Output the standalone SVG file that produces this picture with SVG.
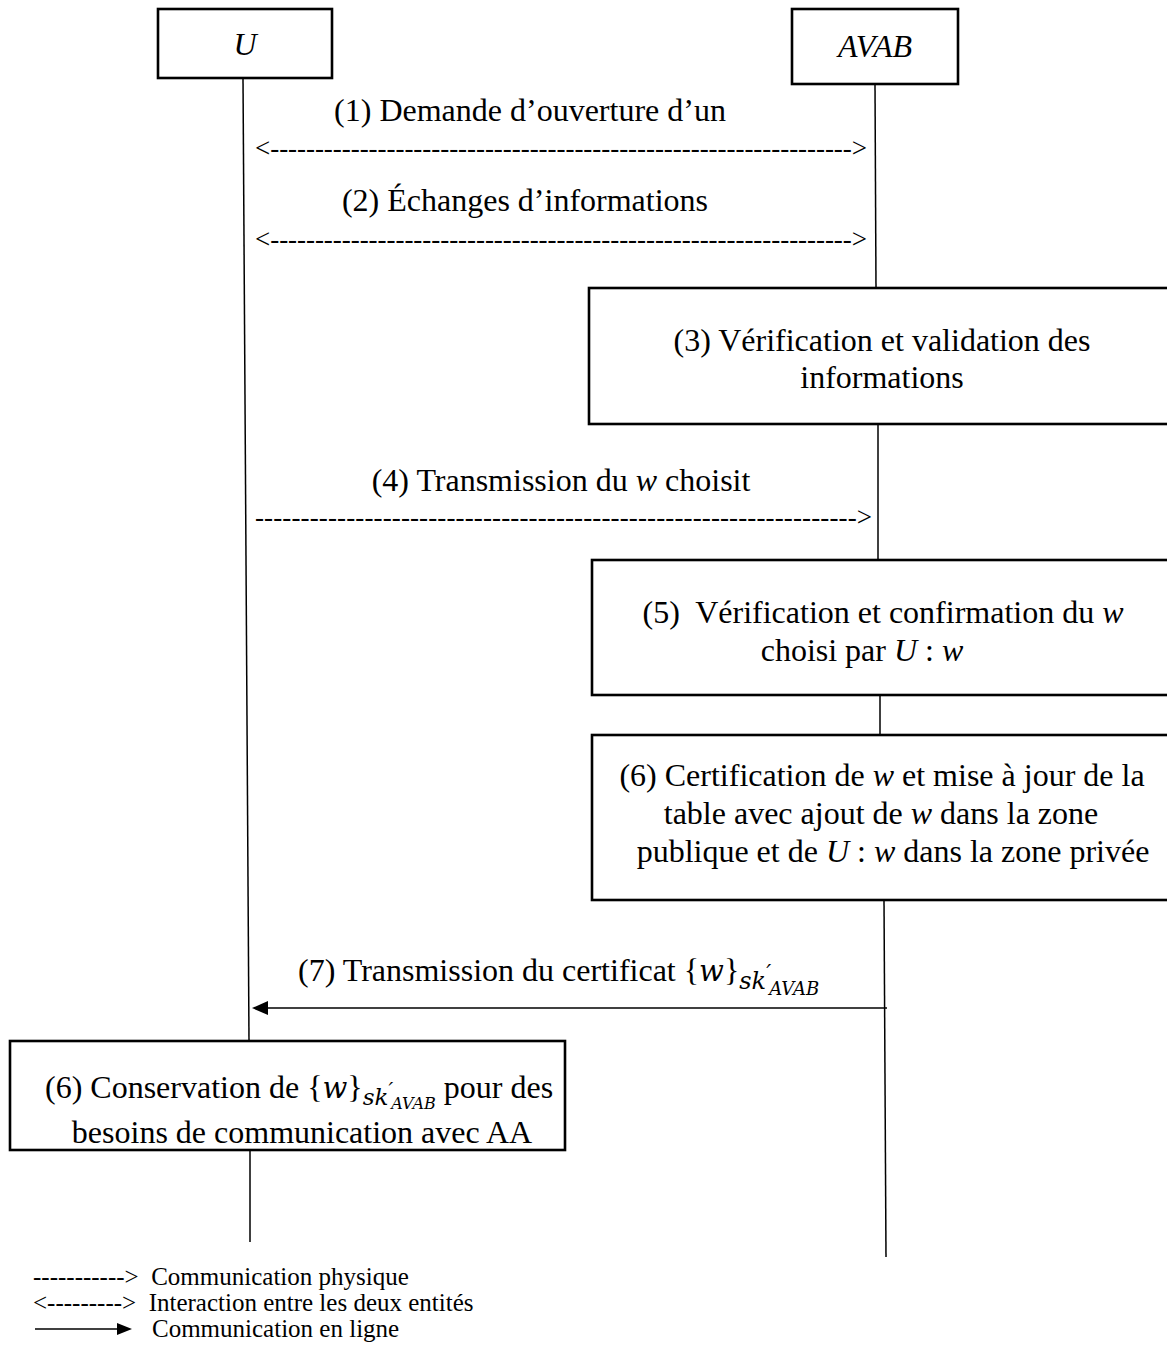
<svg xmlns="http://www.w3.org/2000/svg" width="1167" height="1350" viewBox="0 0 1167 1350">
  <defs>
    <style>
      .box { fill: #fff; stroke: #000; stroke-width: 2.6; }
      .life { stroke: #000; stroke-width: 1.5; fill: none; }
      .t { font-family: "Liberation Serif", "Times New Roman", Times, serif; font-size: 32px; fill: #000; }
      .c { text-anchor: middle; }
      .i { font-style: italic; }
      .dash { font-family: "Liberation Serif", "Times New Roman", Times, serif; font-size: 27px; fill: #000; }
      .leg { font-family: "Liberation Serif", "Times New Roman", Times, serif; font-size: 25px; fill: #000; }
      .m { font-family: "DejaVu Serif", serif; font-style: italic; }
    </style>
  </defs>

  <rect width="1167" height="1350" fill="#fff"/>

  <!-- lifelines and messages -->
  <g id="connectors">
    <line class="life" x1="243" y1="78" x2="249" y2="1041"/>
    <line class="life" x1="250" y1="1150" x2="250" y2="1242"/>
    <line class="life" x1="875" y1="84" x2="876" y2="288"/>
    <line class="life" x1="878" y1="424" x2="878" y2="560"/>
    <line class="life" x1="880" y1="695" x2="880" y2="735"/>
    <line class="life" x1="884" y1="900" x2="886" y2="1257"/>

    <text class="dash" x="255" y="157" textLength="612" lengthAdjust="spacing">&lt;-----------------------------------------------------------------&gt;</text>
    <text class="dash" x="255" y="248" textLength="612" lengthAdjust="spacing">&lt;-----------------------------------------------------------------&gt;</text>
    <text class="dash" x="255" y="526" textLength="617" lengthAdjust="spacing">------------------------------------------------------------------&gt;</text>

    <line x1="887" y1="1008" x2="268" y2="1008" stroke="#000" stroke-width="1.5"/>
    <path d="M252,1008 L268,1001 L268,1015 Z" fill="#000"/>
  </g>

  <g id="msg1"><text class="t c" x="530" y="121">(1) Demande d’ouverture d’un</text></g>
  <g id="msg2"><text class="t c" x="525" y="211">(2) Échanges d’informations</text></g>
  <g id="msg4"><text class="t c" x="561" y="491">(4) Transmission du <tspan class="i">w</tspan> choisit</text></g>
  <g id="msg7">
    <text class="t" x="298" y="981">(7) Transmission du certificat {<tspan class="m" font-size="29">w</tspan>}<tspan class="m" font-size="24" dy="8">sk</tspan><tspan class="m" font-size="22" dy="-9">′</tspan><tspan class="m" font-size="18" dy="15" dx="-2">AVAB</tspan></text>
  </g>

  <g id="node-u">
    <rect class="box" x="158" y="9" width="174" height="69"/>
    <text class="t c i" x="245" y="55" font-size="26">U</text>
  </g>

  <g id="node-avab">
    <rect class="box" x="792" y="9" width="166" height="75"/>
    <text class="t c i" x="875" y="57" font-size="26">AVAB</text>
  </g>

  <g id="step3">
    <rect class="box" x="589" y="288" width="580" height="136"/>
    <text class="t c" x="882" y="351">(3) Vérification et validation des</text>
    <text class="t c" x="882" y="388">informations</text>
  </g>

  <g id="step5">
    <rect class="box" x="592" y="560" width="577" height="135"/>
    <text class="t c" x="883" y="623" xml:space="preserve">(5)  Vérification et confirmation du <tspan class="i">w</tspan></text>
    <text class="t c" x="862" y="661">choisi par <tspan class="i">U</tspan> : <tspan class="i">w</tspan></text>
  </g>

  <g id="step6">
    <rect class="box" x="592" y="735" width="577" height="165"/>
    <text class="t c" x="882" y="786">(6) Certification de <tspan class="i">w</tspan> et mise à jour de la</text>
    <text class="t c" x="881" y="824">table avec ajout de <tspan class="i">w</tspan> dans la zone</text>
    <text class="t c" x="893" y="862">publique et de <tspan class="i">U</tspan> : <tspan class="i">w</tspan> dans la zone privée</text>
  </g>

  <g id="step6-u">
    <rect class="box" x="10" y="1041" width="555" height="109"/>
    <text class="t" x="45" y="1098">(6) Conservation de {<tspan class="m" font-size="29">w</tspan>}<tspan class="m" font-size="23" dy="7">sk</tspan><tspan class="m" font-size="21" dy="-8">′</tspan><tspan class="m" font-size="16" dy="12" dx="-2">AVAB</tspan><tspan dy="-11"> pour des</tspan></text>
    <text class="t c" x="302" y="1143">besoins de communication avec AA</text>
  </g>

  <!-- legend -->
  <g id="legend">
    <text class="leg" x="33" y="1285" xml:space="preserve">-----------&gt;  Communication physique</text>
    <text class="leg" x="33" y="1311" xml:space="preserve">&lt;---------&gt;  Interaction entre les deux entités</text>
    <line x1="35" y1="1329" x2="118" y2="1329" stroke="#000" stroke-width="1.3"/>
    <path d="M132,1329 L117,1323 L117,1335 Z" fill="#000"/>
    <text class="leg" x="152" y="1337">Communication en ligne</text>
  </g>
</svg>
